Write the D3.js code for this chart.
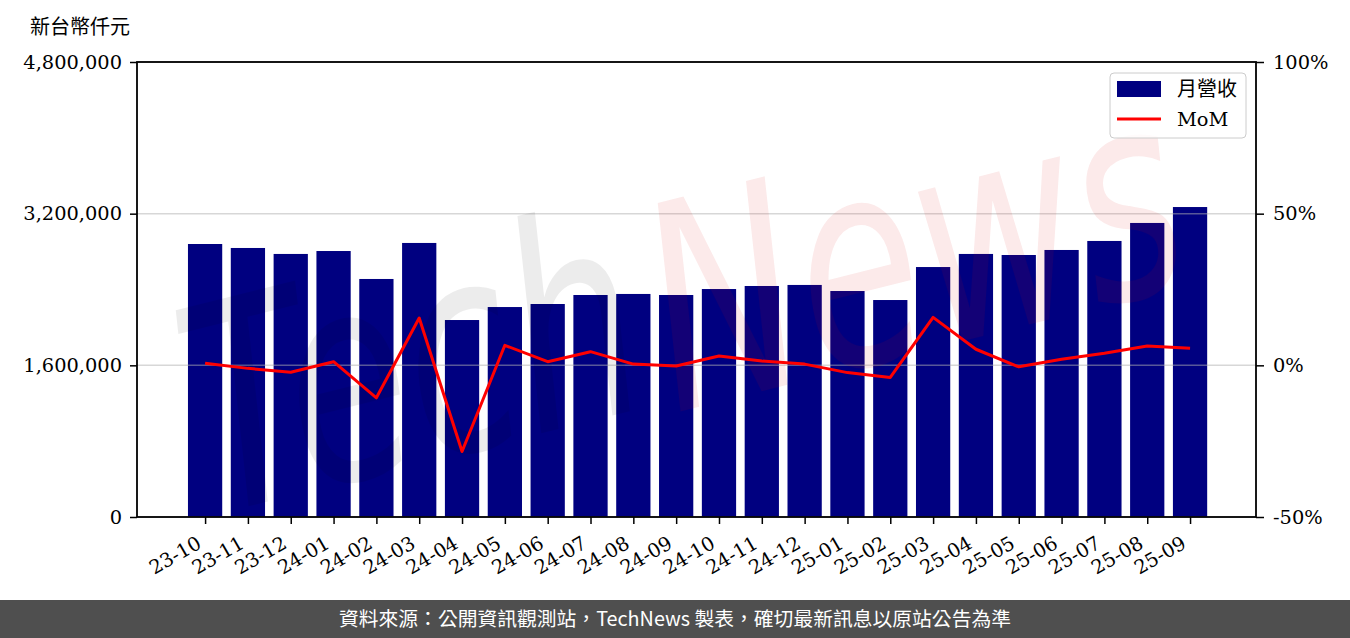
<!DOCTYPE html>
<html><head><meta charset="utf-8">
<script src="https://cdn.jsdelivr.net/npm/d3@7"></script>
<style>body{margin:0;background:#fff} svg{display:block}</style>
</head><body><svg id="c" width="1350" height="638"></svg>
<script>
const months = ["23-10","23-11","23-12","24-01","24-02","24-03","24-04","24-05","24-06","24-07","24-08","24-09","24-10","24-11","24-12","25-01","25-02","25-03","25-04","25-05","25-06","25-07","25-08","25-09"];
const revenue = [2880000,2838000,2775000,2806000,2511000,2891000,2078000,2215000,2247000,2342000,2353000,2342000,2405000,2437000,2448000,2384000,2289000,2637000,2775000,2764000,2817000,2912000,3102000,3270000];
const mom = [0.7,-1.0,-2.3,1.2,-10.7,15.6,-28.4,6.6,1.2,4.5,0.4,-0.2,3.1,1.4,0.4,-2.4,-4.0,15.8,5.3,-0.5,2.0,4.0,6.4,5.6];
const leftTicks = [0,1600000,3200000,4800000];
const rightTicks = [-50,0,50,100];
const unitLabel = "新台幣仟元";
const legendLabels = ["月營收","MoM"];
const watermark = ["Tech","News"];
const footer = "資料來源：公開資訊觀測站，TechNews 製表，確切最新訊息以原站公告為準";

const L = 137, R = 1256, T = 62, B = 517;
const svg = d3.select("#c");
const serif = "'DejaVu Serif', serif";
const cjk = "'Noto Sans CJK TC', sans-serif";

const x = d3.scaleLinear().domain([-1.59, months.length - 1 + 1.54]).range([L, R]);
const yL = d3.scaleLinear().domain([0, 4800000]).range([B, T]);
const yR = d3.scaleLinear().domain([-50, 100]).range([B, T]);
const bw = (x(1) - x(0)) * 0.8;

// bars
svg.append("g").selectAll("rect").data(revenue).join("rect")
  .attr("x", (d, i) => x(i) - bw / 2).attr("width", bw)
  .attr("y", d => yL(d)).attr("height", d => B - yL(d))
  .attr("fill", "#000080");

// gridlines
svg.append("g").selectAll("line").data(leftTicks).join("line")
  .attr("x1", L).attr("x2", R).attr("y1", d => yL(d)).attr("y2", d => yL(d))
  .attr("stroke", "#b0b0b0").attr("stroke-opacity", 0.5).attr("stroke-width", 1.5);

// watermark (two words)
const wmSpec = [
  {t: watermark[0], cx: 411, cy: 360, fill: "#000", op: 0.075},
  {t: watermark[1], cx: 912, cy: 248, fill: "#e01010", op: 0.085}
];
wmSpec.forEach(s => {
  svg.append("g").attr("transform", `translate(${s.cx},${s.cy}) rotate(-14) scale(0.7,1)`)
    .append("text").attr("text-anchor", "middle").attr("dy", "0.36em")
    .attr("font-family", "'DejaVu Sans', sans-serif").attr("font-style", "italic")
    .attr("font-size", 285).attr("fill", s.fill).attr("fill-opacity", s.op).text(s.t);
});

// line
svg.append("path").datum(mom)
  .attr("d", d3.line().x((d, i) => x(i)).y(d => yR(d)))
  .attr("fill", "none").attr("stroke", "#ff0000").attr("stroke-width", 3).attr("stroke-linejoin", "round");

// axes
const axL = svg.append("g").attr("transform", `translate(${L},0)`)
  .call(d3.axisLeft(yL).tickValues(leftTicks).tickSize(7).tickPadding(8).tickFormat(d3.format(",")));
const axR = svg.append("g").attr("transform", `translate(${R},0)`)
  .call(d3.axisRight(yR).tickValues(rightTicks).tickSize(8).tickPadding(9).tickFormat(d => d + "%"));
const axB = svg.append("g").attr("transform", `translate(0,${B})`)
  .call(d3.axisBottom(x).tickValues(d3.range(months.length)).tickSize(7).tickFormat(i => months[i]));
[axL, axR, axB].forEach(a => {
  a.select(".domain").remove();
  a.selectAll(".tick line").attr("stroke", "#000").attr("stroke-width", 1.5);
  a.selectAll("text").attr("font-family", serif).attr("font-size", 19.4).attr("fill", "#000");
});
axB.selectAll("text").attr("text-anchor", "end").attr("dy", null).attr("y", null)
  .attr("transform", "translate(-3,30) rotate(-30)");

// frame
svg.append("rect").attr("x", L).attr("y", T).attr("width", R - L).attr("height", B - T)
  .attr("fill", "none").attr("stroke", "#000").attr("stroke-width", 1.8);

// unit label
svg.append("text").attr("x", 30).attr("y", 34).text(unitLabel)
  .attr("font-family", cjk).attr("font-size", 20).attr("fill", "#000");

// legend
const lg = svg.append("g");
lg.append("rect").attr("x", 1110).attr("y", 73).attr("width", 136).attr("height", 65).attr("rx", 4)
  .attr("fill", "#fff").attr("fill-opacity", 0.8).attr("stroke", "#cccccc").attr("stroke-width", 1);
lg.append("rect").attr("x", 1117).attr("y", 81).attr("width", 44).attr("height", 16).attr("fill", "#000080");
lg.append("line").attr("x1", 1117).attr("x2", 1161).attr("y1", 119).attr("y2", 119)
  .attr("stroke", "#ff0000").attr("stroke-width", 3);
lg.append("text").attr("x", 1177).attr("y", 96).text(legendLabels[0])
  .attr("font-family", cjk).attr("font-size", 20).attr("fill", "#000");
lg.append("text").attr("x", 1177).attr("y", 126).text(legendLabels[1])
  .attr("font-family", serif).attr("font-size", 19.4).attr("fill", "#000");

// footer
svg.append("rect").attr("x", 0).attr("y", 600).attr("width", 1350).attr("height", 38).attr("fill", "#4f4f4f");
svg.append("text").attr("x", 675).attr("y", 626).attr("text-anchor", "middle").text(footer)
  .attr("font-family", cjk).attr("font-size", 19.8).attr("fill", "#fff");
</script></body></html>
